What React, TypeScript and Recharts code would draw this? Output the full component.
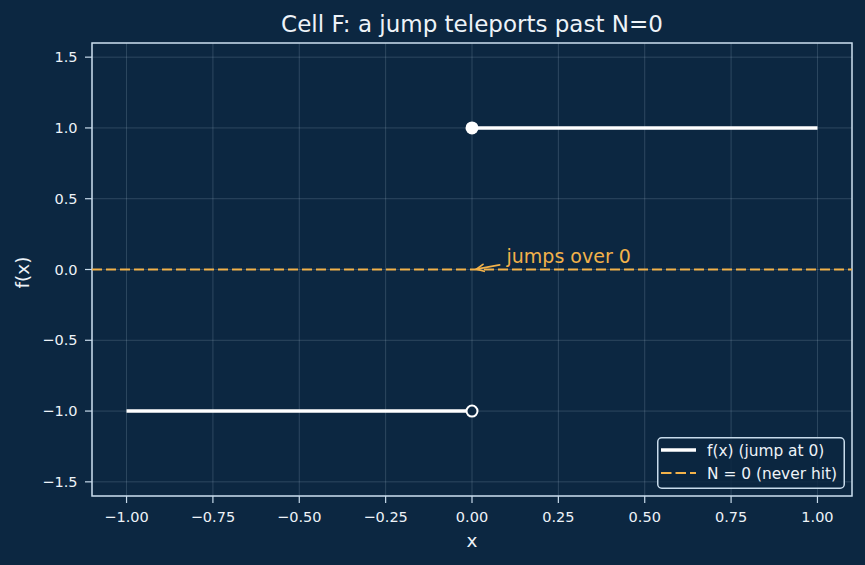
import React from 'react';
import {
  ComposedChart,
  Line,
  Scatter,
  XAxis,
  YAxis,
  CartesianGrid,
  ReferenceLine,
  ReferenceArea,
  ReferenceDot,
  Legend,
  Label,
} from 'recharts';

const BG = '#0c2741';
const SPINE = '#c8dbeb';
const TEXT = '#eef3f8';
const ORANGE = '#f2b24a';
const FONT = '"DejaVu Sans", Verdana, sans-serif';

// f(x) = -1 for x < 0 and 1 for x >= 0, drawn as two flat branches
const leftBranch = [
  { x: -1, y: -1 },
  { x: 0, y: -1 },
];
const rightBranch = [
  { x: 0, y: 1 },
  { x: 1, y: 1 },
];
const closedEnd = [{ x: 0, y: 1 }];
const openEnd = [{ x: 0, y: -1 }];
const targetLevel = 0;

const xTicks = [-1, -0.75, -0.5, -0.25, 0, 0.25, 0.5, 0.75, 1];
const yTicks = [-1.5, -1, -0.5, 0, 0.5, 1, 1.5];
const xDomain = [-1.1, 1.1];
const yDomain = [-1.6, 1.6];

const titleText = 'Cell F: a jump teleports past N=0';
const noteText = 'jumps over 0';
const notePos = { x: 0.1, y: 0.045 };
const arrowFrom = { x: 0.08, y: 0.032 };
const arrowTo = { x: 0.013, y: 0.003 };

const legendItems = [
  { label: 'f(x) (jump at 0)', color: '#ffffff', width: 3.5, dash: undefined },
  { label: 'N = 0 (never hit)', color: ORANGE, width: 2, dash: '10.5 4' },
];

const minus = (s: string) => s.replace('-', '\u2212');

const ClosedDot = (p: any) => <circle cx={p.cx} cy={p.cy} r={6.5} fill="#ffffff" />;
const OpenDot = (p: any) => (
  <circle cx={p.cx} cy={p.cy} r={5.5} fill={BG} stroke="#ffffff" strokeWidth={2} />
);

const Arrow = (p: any) => {
  const { x1, y1, x2, y2 } = p;
  const ang = Math.atan2(y2 - y1, x2 - x1);
  const len = 8;
  const spread = 0.45;
  const a1 = ang + Math.PI - spread;
  const a2 = ang + Math.PI + spread;
  return (
    <g stroke={ORANGE} strokeWidth={1.8} fill="none" strokeLinecap="round">
      <line x1={x1} y1={y1} x2={x2} y2={y2} />
      <polyline
        points={`${x2 + len * Math.cos(a1)},${y2 + len * Math.sin(a1)} ${x2},${y2} ${
          x2 + len * Math.cos(a2)
        },${y2 + len * Math.sin(a2)}`}
      />
    </g>
  );
};

const NoteText = (p: any) => (
  <text x={p.cx} y={p.cy} fill={ORANGE} fontSize={19} fontFamily={FONT}>
    {noteText}
  </text>
);

const LegendBox = () => (
  <svg width={188} height={52} style={{ display: 'block' }}>
    <rect
      x={0.75}
      y={0.75}
      width={186.5}
      height={50.5}
      rx={4}
      fill={BG}
      fillOpacity={0.85}
      stroke={SPINE}
      strokeWidth={1.5}
    />
    {legendItems.map((item, i) => (
      <g key={item.label}>
        <line
          x1={4}
          x2={39}
          y1={13 + i * 23}
          y2={13 + i * 23}
          stroke={item.color}
          strokeWidth={item.width}
          strokeDasharray={item.dash}
        />
        <text x={50} y={19 + i * 23} fill={TEXT} fontSize={15.4} fontFamily={FONT}>
          {item.label}
        </text>
      </g>
    ))}
  </svg>
);

export default function App() {
  return (
    <div style={{ position: 'absolute', left: 0, top: 0, width: 865, height: 565, background: BG }}>
      <div
        style={{
          position: 'absolute',
          left: 92,
          width: 760,
          top: 11,
          textAlign: 'center',
          fontFamily: FONT,
          fontSize: 23,
          color: TEXT,
          whiteSpace: 'nowrap',
        }}
      >
        {titleText}
      </div>
      <ComposedChart
        width={865}
        height={565}
        margin={{ top: 43, right: 13, bottom: 0, left: 0 }}
        style={{ position: 'absolute', left: 0, top: 0 }}
      >
        <CartesianGrid stroke="rgba(200,220,240,0.18)" strokeWidth={1} />
        <XAxis
          type="number"
          dataKey="x"
          domain={xDomain}
          ticks={xTicks}
          interval={0}
          allowDataOverflow
          height={69}
          axisLine={false}
          tickLine={{ stroke: SPINE, strokeWidth: 1.2 }}
          tickSize={7}
          tickMargin={9}
          tickFormatter={(v: number) => minus(v.toFixed(2))}
          tick={{ fill: TEXT, fontSize: 14.5, fontFamily: FONT }}
        >
          <Label
            content={(p: any) => {
              const vb = p.viewBox;
              return (
                <text
                  x={vb.x + vb.width / 2}
                  y={vb.y + 51}
                  textAnchor="middle"
                  fill={TEXT}
                  fontSize={18.5}
                  fontFamily={FONT}
                >
                  x
                </text>
              );
            }}
          />
        </XAxis>
        <YAxis
          type="number"
          dataKey="y"
          domain={yDomain}
          ticks={yTicks}
          interval={0}
          allowDataOverflow
          width={92}
          axisLine={false}
          tickLine={{ stroke: SPINE, strokeWidth: 1.2 }}
          tickSize={7}
          tickMargin={7.5}
          tickFormatter={(v: number) => minus(v.toFixed(1))}
          tick={{ fill: TEXT, fontSize: 14.5, fontFamily: FONT }}
        >
          <Label
            content={(p: any) => {
              const vb = p.viewBox;
              const cx = vb.x + 29.3;
              const cy = vb.y + vb.height / 2 + 3;
              return (
                <text
                  x={cx}
                  y={cy}
                  transform={`rotate(-90, ${cx}, ${cy})`}
                  textAnchor="middle"
                  fill={TEXT}
                  fontSize={18.5}
                  fontFamily={FONT}
                >
                  f(x)
                </text>
              );
            }}
          />
        </YAxis>
        <ReferenceArea
          x1={xDomain[0]}
          x2={xDomain[1]}
          y1={yDomain[0]}
          y2={yDomain[1]}
          fill="none"
          stroke={SPINE}
          strokeWidth={1.5}
          ifOverflow="visible"
        />
        <ReferenceLine y={targetLevel} stroke={ORANGE} strokeWidth={2} strokeDasharray="10 4" />
        <Line
          data={leftBranch}
          dataKey="y"
          stroke="#ffffff"
          strokeWidth={3.5}
          dot={false}
          activeDot={false}
          isAnimationActive={false}
        />
        <Line
          data={rightBranch}
          dataKey="y"
          stroke="#ffffff"
          strokeWidth={3.5}
          dot={false}
          activeDot={false}
          isAnimationActive={false}
        />
        <Scatter data={closedEnd} dataKey="y" shape={ClosedDot} isAnimationActive={false} />
        <Scatter data={openEnd} dataKey="y" shape={OpenDot} isAnimationActive={false} />
        <ReferenceLine
          segment={[arrowFrom, arrowTo]}
          shape={Arrow}
          ifOverflow="visible"
        />
        <ReferenceDot x={notePos.x} y={notePos.y} r={0} shape={NoteText} ifOverflow="visible" />
        <Legend
          layout="vertical"
          align="center"
          verticalAlign="middle"
          wrapperStyle={{ left: 657, top: 437, width: 188, height: 52 }}
          content={() => <LegendBox />}
        />
      </ComposedChart>
    </div>
  );
}
